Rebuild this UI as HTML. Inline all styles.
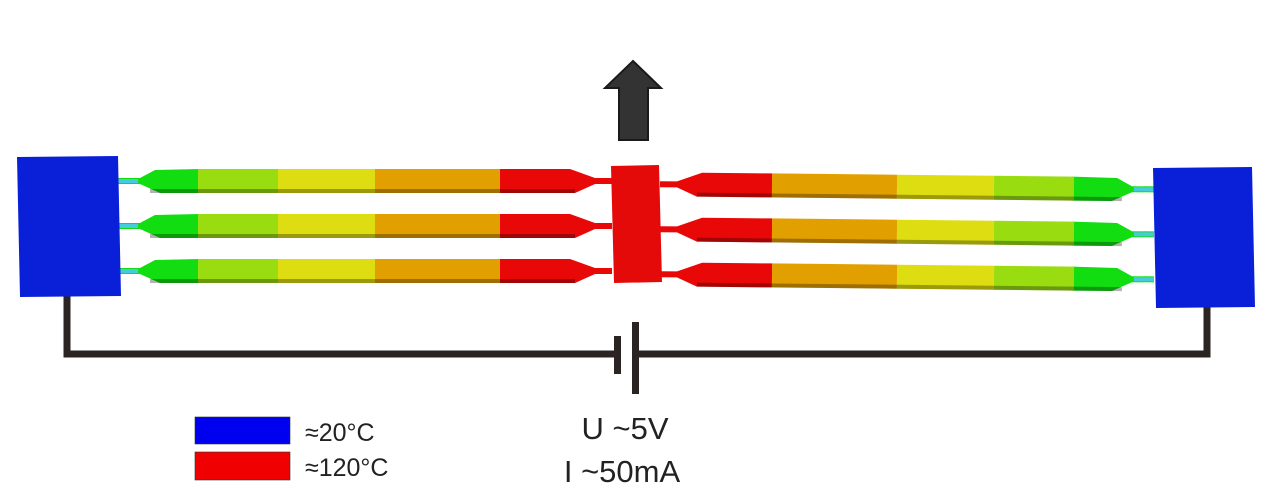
<!DOCTYPE html>
<html><head><meta charset="utf-8"><style>html,body{margin:0;padding:0;background:#fff}svg{display:block}</style></head>
<body>
<svg width="1274" height="496" viewBox="0 0 1274 496" xmlns="http://www.w3.org/2000/svg">
<defs>
<g id="L">
  <polygon points="118,-3 140,-3 155,-11 200,-12 200,12 160,12 140,3 118,3" fill="#11dd11"/>
  <rect x="198" y="-12" width="80" height="24" fill="#99dd11"/>
  <rect x="278" y="-12" width="97" height="24" fill="#dddd11"/>
  <rect x="375" y="-12" width="125" height="24" fill="#e2a000"/>
  <polygon points="500,-12 570,-12 595,-3 612,-3 612,3 595,3 575,12 500,12" fill="#e80808"/>
  <rect x="150" y="8" width="425" height="4" fill="#000" opacity="0.3"/>
  <rect x="118" y="-2" width="20" height="4" fill="#44ccdd"/>
</g>
</defs>
<polyline points="67,296 67,354 617,354" fill="none" stroke="#2a2522" stroke-width="7"/>
<polyline points="637,354 1207,354 1207,296" fill="none" stroke="#2a2522" stroke-width="7"/>
<rect x="614" y="336" width="7" height="38" fill="#2a2522"/>
<rect x="632" y="322" width="7" height="72" fill="#2a2522"/>
<use href="#L" transform="translate(0,181)"/>
<use href="#L" transform="translate(0,226)"/>
<use href="#L" transform="translate(0,271)"/>
<use href="#L" transform="translate(1272,184) scale(-1,1) rotate(-0.6,636,0)"/>
<use href="#L" transform="translate(1272,229) scale(-1,1) rotate(-0.6,636,0)"/>
<use href="#L" transform="translate(1272,274) scale(-1,1) rotate(-0.6,636,0)"/>
<polygon points="17,157 118,156 121,296 20,297" fill="#0a20d8"/>
<polygon points="1153,168 1252,167 1255,307 1156,308" fill="#0a20d8"/>
<polygon points="611,166 659,165 662,282 614,283" fill="#e40a0a"/>
<polygon points="633,61 661,88 648,88 648,140 619,140 619,88 605,88" fill="#333" stroke="#1a1a1a" stroke-width="2"/>
<rect x="195" y="417" width="95" height="27" fill="#0000f0" stroke="#333" stroke-width="0.6"/>
<rect x="195" y="452" width="95" height="28" fill="#f00000" stroke="#333" stroke-width="0.6"/>
<text x="305" y="441" font-family="Liberation Sans, sans-serif" font-size="25" fill="#222">≈20°C</text>
<text x="305" y="476" font-family="Liberation Sans, sans-serif" font-size="25" fill="#222">≈120°C</text>
<text x="625" y="439" text-anchor="middle" font-family="Liberation Sans, sans-serif" font-size="31" fill="#222">U ~5V</text>
<text x="622" y="482" text-anchor="middle" font-family="Liberation Sans, sans-serif" font-size="31" fill="#222">I ~50mA</text>
</svg>
</body></html>
